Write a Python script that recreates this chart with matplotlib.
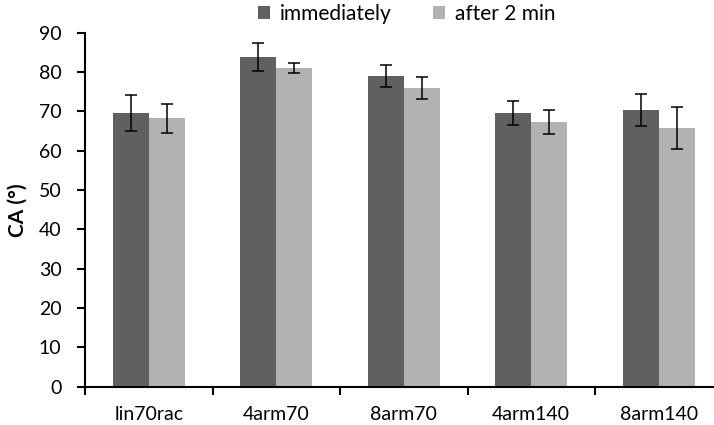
import numpy as np
import matplotlib.pyplot as plt

categories = ['lin70rac', '4arm70', '8arm70', '4arm140', '8arm140']
immediately = [69.6, 83.8, 79.0, 69.6, 70.3]
immediately_err = [4.5, 3.5, 2.7, 3.0, 4.1]
after_2min = [68.2, 81.0, 75.9, 67.3, 65.8]
after_2min_err = [3.8, 1.2, 2.8, 3.0, 5.3]

plt.rcParams['font.family'] = ['Lato', 'DejaVu Sans']

fig = plt.figure(figsize=(7.14, 4.25), dpi=100)
ax = fig.add_axes([85 / 714, 38.3 / 425, 637.5 / 714, 354 / 425])

x = np.arange(len(categories))
w = 0.283
err_kw = dict(ecolor='black', elinewidth=1.1, capsize=4, capthick=1.1)
ax.bar(x - w / 2, immediately, w, yerr=immediately_err, color='#606060',
       label='immediately', error_kw=err_kw)
ax.bar(x + w / 2, after_2min, w, yerr=after_2min_err, color='#b2b2b2',
       label='after 2 min', error_kw=err_kw)

ax.set_xlim(-0.5, 4.5)
ax.set_ylim(0, 90)
ax.set_yticks(np.arange(0, 91, 10))
ax.set_xticks(x)
ax.set_xticklabels(categories, fontsize=14)
ax.set_xticks(np.arange(-0.5, 4.6, 1), minor=True)
ax.tick_params(axis='x', which='major', length=0, pad=14)
ax.tick_params(axis='x', which='minor', length=6, width=1.5, direction='out')
ax.tick_params(axis='y', labelsize=14, length=6, width=1.5, direction='out', pad=11)
for s in ['top', 'right']:
    ax.spines[s].set_visible(False)
for s in ['left', 'bottom']:
    ax.spines[s].set_linewidth(1.5)
ax.set_ylabel('CA (°)', fontsize=15, fontweight='bold', labelpad=8)

fig.legend(loc='center', bbox_to_anchor=(407 / 714, 1 - 14 / 425), ncol=2,
           frameon=False, fontsize=15, handlelength=0.55, handleheight=0.55,
           columnspacing=2.0, handletextpad=0.5)

fig.savefig('out.png', dpi=100)
